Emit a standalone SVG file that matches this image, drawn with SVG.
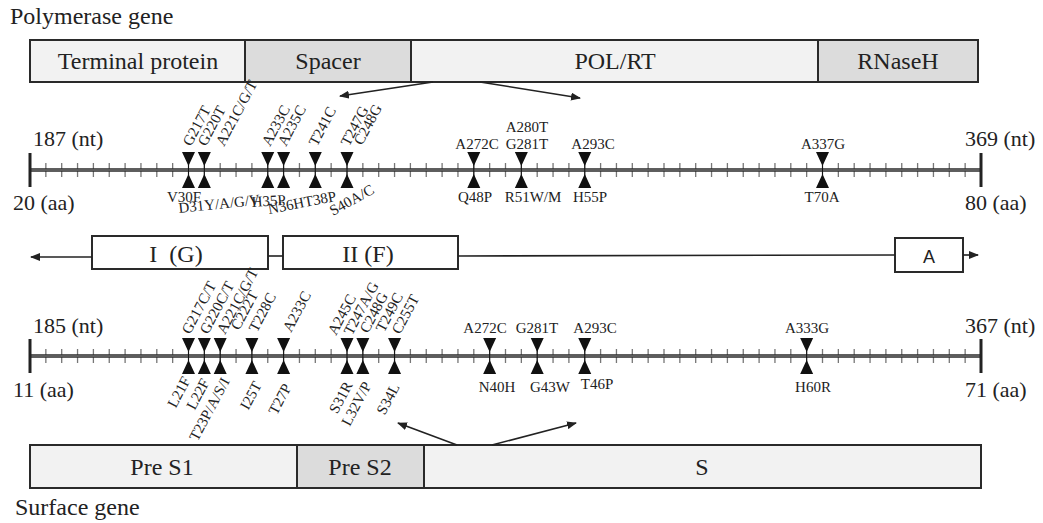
<svg xmlns="http://www.w3.org/2000/svg" xmlns:xlink="http://www.w3.org/1999/xlink" width="1043" height="523" viewBox="0 0 1043 523">
<style>
text{font-family:"Liberation Serif","Times New Roman",serif;fill:#222}
.big{font-size:24px}
.lab{font-size:22px}
.sm{font-size:15px}
.rot{font-size:15px}
.mid{text-anchor:middle}
.end{text-anchor:end}
.box{stroke:#2a2a2a;stroke-width:2}
.light{fill:#f2f2f2}
.gray{fill:#dcdcdc}
.white{fill:#fff}
.arr{stroke:#222;stroke-width:1.6;fill:none}
.mk{fill:#111}
</style>
<defs>
<marker id="ah" markerWidth="10" markerHeight="8" refX="9" refY="4" orient="auto" markerUnits="userSpaceOnUse">
<path d="M0,0 L10,4 L0,8 Z" fill="#222"/>
</marker>
<g id="ticks"><path d="M45.85,-7V7M61.7,-7V7M77.55,-7V7M93.4,-7V7M109.25,-7V7M125.1,-7V7M140.95,-7V7M156.8,-7V7M172.65,-7V7M188.5,-7V7M204.35,-7V7M220.2,-7V7M236.05,-7V7M251.9,-7V7M267.75,-7V7M283.6,-7V7M299.45,-7V7M315.3,-7V7M331.15,-7V7M347,-7V7M362.85,-7V7M378.7,-7V7M394.55,-7V7M410.4,-7V7M426.25,-7V7M442.1,-7V7M457.95,-7V7M473.8,-7V7M489.65,-7V7M505.5,-7V7M521.35,-7V7M537.2,-7V7M553.05,-7V7M568.9,-7V7M584.75,-7V7M600.6,-7V7M616.45,-7V7M632.3,-7V7M648.15,-7V7M664,-7V7M679.85,-7V7M695.7,-7V7M711.55,-7V7M727.4,-7V7M743.25,-7V7M759.1,-7V7M774.95,-7V7M790.8,-7V7M806.65,-7V7M822.5,-7V7M838.35,-7V7M854.2,-7V7M870.05,-7V7M885.9,-7V7M901.75,-7V7M917.6,-7V7M933.45,-7V7M949.3,-7V7M965.15,-7V7" stroke="#777" stroke-width="1.3"/>
<line x1="30" y1="0" x2="981" y2="0" stroke="#2a2a2a" stroke-width="3.6"/>
<line x1="30" y1="0" x2="981" y2="0" stroke="#aaa" stroke-width="0.8"/>
<line x1="30" y1="-17" x2="30" y2="17" stroke="#222" stroke-width="3"/>
<line x1="981" y1="-17" x2="981" y2="17" stroke="#222" stroke-width="3"/>
</g>
<g id="mk" class="mk"><path d="M-6.5,-18 L6.5,-18 L0,-4 Z M-6.5,18 L6.5,18 L0,4 Z"/><line x1="0" y1="-18" x2="0" y2="18" stroke="#111" stroke-width="1"/></g>
</defs>

<text id="title-pol" class="big" x="10" y="24">Polymerase gene</text>

<g id="polymerase-gene">
<g id="terminal-protein"><rect class="box light" x="30" y="40" width="215" height="42"/><text class="big mid" x="138" y="69">Terminal protein</text></g>
<g id="spacer"><rect class="box gray" x="245" y="40" width="166" height="42"/><text class="big mid" x="328" y="69">Spacer</text></g>
<g id="pol-rt"><rect class="box light" x="411" y="40" width="407" height="42"/><text class="big mid" x="615" y="69">POL/RT</text></g>
<g id="rnaseh"><rect class="box gray" x="818" y="40" width="160" height="42"/><text class="big mid" x="898" y="69">RNaseH</text></g>
</g>

<g id="pol-axis">
<use xlink:href="#ticks" transform="translate(0,170)"/>
<text class="lab" x="33" y="146">187 (nt)</text>
<text class="lab" x="965" y="146">369 (nt)</text>
<text class="lab" x="13" y="210">20 (aa)</text>
<text class="lab" x="965" y="210">80 (aa)</text>
<use xlink:href="#mk" x="188.5" y="170"/>
<use xlink:href="#mk" x="204.35" y="170"/>
<use xlink:href="#mk" x="267.75" y="170"/>
<use xlink:href="#mk" x="283.6" y="170"/>
<use xlink:href="#mk" x="315.3" y="170"/>
<use xlink:href="#mk" x="347" y="170"/>
<use xlink:href="#mk" x="473.8" y="170"/>
<use xlink:href="#mk" x="521.35" y="170"/>
<use xlink:href="#mk" x="584.75" y="170"/>
<use xlink:href="#mk" x="822.5" y="170"/>
<text class="rot" transform="translate(191,147) rotate(-62)">G217T</text>
<text class="rot" transform="translate(206,147) rotate(-62)">G220T</text>
<text class="rot" transform="translate(224,147) rotate(-62)">A221C/G/T</text>
<text class="rot" transform="translate(270,147) rotate(-62)">A233C</text>
<text class="rot" transform="translate(286,147) rotate(-62)">A235C</text>
<text class="rot" transform="translate(317,147) rotate(-62)">T241C</text>
<text class="rot" transform="translate(349,147) rotate(-62)">T247G</text>
<text class="rot" transform="translate(362,146) rotate(-62)">C248G</text>
<text class="sm mid" x="477" y="149">A272C</text>
<text class="sm mid" x="527" y="132">A280T</text>
<text class="sm mid" x="527" y="149">G281T</text>
<text class="sm mid" x="593" y="149">A293C</text>
<text class="sm mid" x="823" y="149">A337G</text>
<text class="sm" x="167" y="202">V30F</text>
<text class="sm" transform="translate(179,213) rotate(-6)">D31Y/A/G/V</text>
<text class="sm" transform="translate(252,207) rotate(-4)">H35P</text>
<text class="sm" transform="translate(269,214) rotate(-11)">N36HT38P</text>
<text class="sm" transform="translate(333,216) rotate(-29)">S40A/C</text>
<text class="sm mid" x="475" y="202">Q48P</text>
<text class="sm mid" x="533" y="202">R51W/M</text>
<text class="sm mid" x="590" y="202">H55P</text>
<text class="sm mid" x="822" y="202">T70A</text>
</g>

<g id="domains">
<g id="domain-I"><rect class="box white" x="92" y="236" width="176" height="33"/><text class="big mid" x="176" y="262">I&#160; (G)</text></g>
<g id="domain-II"><rect class="box white" x="283" y="236" width="175" height="33"/><text class="big mid" x="368" y="262">II (F)</text></g>
<g id="domain-A"><rect class="box white" x="895" y="238" width="68" height="34"/><text class="mid" x="929" y="263" style="font-family:'Liberation Sans',Arial,sans-serif;font-size:18px">A</text></g>
</g>

<g id="sur-axis">
<use xlink:href="#ticks" transform="translate(0,356)"/>
<text class="lab" x="33" y="333">185 (nt)</text>
<text class="lab" x="965" y="333">367 (nt)</text>
<text class="lab" x="13" y="397">11 (aa)</text>
<text class="lab" x="965" y="397">71 (aa)</text>
<use xlink:href="#mk" x="188.5" y="356"/>
<use xlink:href="#mk" x="204.35" y="356"/>
<use xlink:href="#mk" x="220.2" y="356"/>
<use xlink:href="#mk" x="251.9" y="356"/>
<use xlink:href="#mk" x="283.6" y="356"/>
<use xlink:href="#mk" x="347" y="356"/>
<use xlink:href="#mk" x="362.85" y="356"/>
<use xlink:href="#mk" x="394.55" y="356"/>
<use xlink:href="#mk" x="489.65" y="356"/>
<use xlink:href="#mk" x="537.2" y="356"/>
<use xlink:href="#mk" x="584.75" y="356"/>
<use xlink:href="#mk" x="806.65" y="356"/>
<text class="rot" transform="translate(190,335) rotate(-62)">G217C/T</text>
<text class="rot" transform="translate(208,335) rotate(-62)">G220C/T</text>
<text class="rot" transform="translate(225,335) rotate(-62)">A221C/G/T</text>
<text class="rot" transform="translate(239,331) rotate(-62)">C222T</text>
<text class="rot" transform="translate(257,333) rotate(-62)">T228C</text>
<text class="rot" transform="translate(291,333) rotate(-62)">A233C</text>
<text class="rot" transform="translate(336,336) rotate(-62)">A245C</text>
<text class="rot" transform="translate(352,336) rotate(-62)">T247A/G</text>
<text class="rot" transform="translate(368,334) rotate(-62)">C248G</text>
<text class="rot" transform="translate(384,333) rotate(-62)">T249C</text>
<text class="rot" transform="translate(400,335) rotate(-62)">C255T</text>
<text class="rot end" transform="translate(191,380) rotate(-62)">L21F</text>
<text class="rot end" transform="translate(210,382) rotate(-62)">L22F</text>
<text class="rot end" transform="translate(230,381) rotate(-62)">T23P/A/S/I</text>
<text class="rot end" transform="translate(262,385) rotate(-62)">I25T</text>
<text class="rot end" transform="translate(292,387) rotate(-62)">T27P</text>
<text class="rot end" transform="translate(353,385) rotate(-62)">S31R</text>
<text class="rot end" transform="translate(372,385) rotate(-62)">L32V/P</text>
<text class="rot end" transform="translate(400,387) rotate(-62)">S34L</text>
<text class="sm mid" x="485" y="333">A272C</text>
<text class="sm mid" x="537" y="333">G281T</text>
<text class="sm mid" x="595" y="333">A293C</text>
<text class="sm mid" x="807" y="333">A333G</text>
<text class="sm mid" x="497" y="392">N40H</text>
<text class="sm mid" x="550" y="392">G43W</text>
<text class="sm mid" x="597" y="389">T46P</text>
<text class="sm mid" x="813" y="392">H60R</text>
</g>

<g id="surface-gene">
<g id="pre-s1"><rect class="box light" x="30" y="445" width="267" height="43"/><text class="big mid" x="162" y="475">Pre S1</text></g>
<g id="pre-s2"><rect class="box gray" x="297" y="445" width="127" height="43"/><text class="big mid" x="360" y="475">Pre S2</text></g>
<g id="s"><rect class="box light" x="424" y="445" width="557" height="43"/><text class="big mid" x="702" y="475">S</text></g>
</g>
<text id="title-sur" class="big" x="15" y="515">Surface gene</text>

<g id="connectors">
<path class="arr" d="M433,82 L340,96" marker-end="url(#ah)"/>
<path class="arr" d="M480,82 L580,98" marker-end="url(#ah)"/>
<path class="arr" d="M92,257 L31,257" marker-end="url(#ah)"/>
<path class="arr" d="M268,256 L283,256"/>
<path class="arr" d="M458,256 L895,255"/>
<path class="arr" d="M963,255 L978,255" marker-end="url(#ah)"/>
<path class="arr" d="M457,445 L398,423" marker-end="url(#ah)"/>
<path class="arr" d="M492,445 L576,423" marker-end="url(#ah)"/>
</g>
</svg>
